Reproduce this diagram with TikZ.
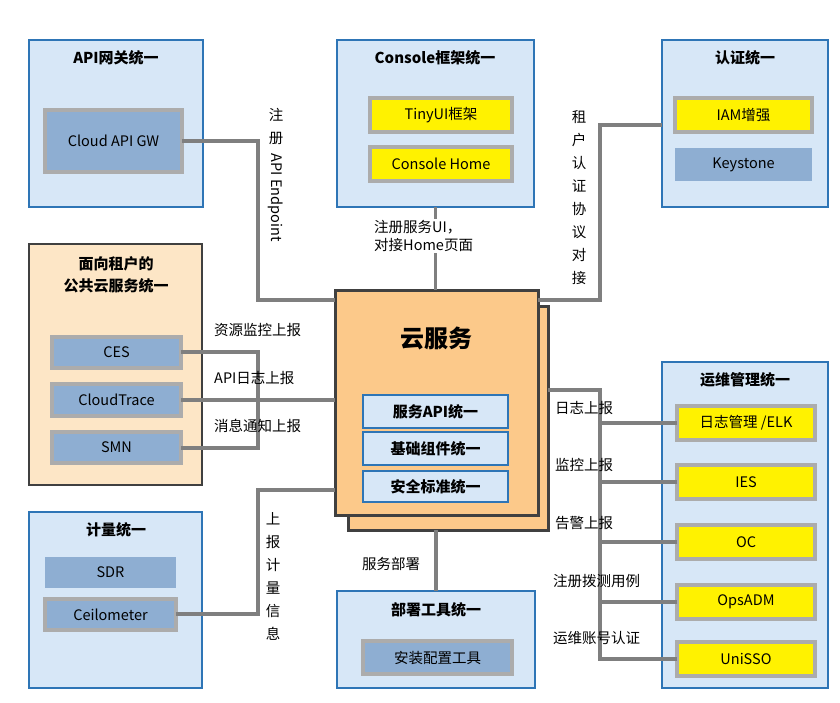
\documentclass[tikz,border=0pt]{standalone}
\usepackage{fontspec}
\setmainfont{Noto Sans CJK SC}
\usepackage{tikz}
\usetikzlibrary{positioning}
\definecolor{panel_fill}{HTML}{D7E7F7}
\definecolor{panel_line}{HTML}{2E75B6}
\definecolor{item_fill}{HTML}{8EAED2}
\definecolor{item_line}{HTML}{ACACAC}
\definecolor{cloud_fill}{HTML}{FCC98A}
\definecolor{tenant_fill}{HTML}{FDE6C6}
\definecolor{dark_line}{HTML}{404040}
\definecolor{wire}{HTML}{7F7F7F}
\tikzset{
  label_font/.style = {font=\fontsize{14.5}{18}\selectfont},
  title_font/.style = {font=\fontsize{15}{22}\selectfont\bfseries},
  box/.style = {anchor=north west, inner sep=0, outer sep=0}
}
\tikzset{
  panel/.style = {box, draw=panel_line, line width=2pt, fill=panel_fill},
  tenant/.style = {box, draw=dark_line, line width=2pt, fill=tenant_fill},
  title/.style = {title_font, anchor=center},
  item/.style = {box, label_font, fill=item_fill, draw=item_line, line width=3.5pt, align=center},
  plain_item/.style = {box, label_font, fill=item_fill, align=center},
  yellow_item/.style = {box, label_font, fill=yellow, draw=item_line, line width=3.5pt, align=center},
  cloud/.style = {box, draw=dark_line, line width=3pt, fill=cloud_fill},
  unify/.style = {box, title_font, fill=panel_fill, draw=panel_line, line width=2pt, align=center},
  wire_line/.style = {draw=wire, line width=3.2pt},
  tag/.style = {label_font, anchor=west, inner sep=0},
  stack/.style = {align=center, inner sep=0, font=\fontsize{14.5}{23}\selectfont}
}
\begin{document}
\begin{tikzpicture}[x=1pt, y=-1pt]
    \useasboundingbox (0,0) rectangle (840,702);

    % Panels
    \node[panel, minimum width=174, minimum height=167] at (29,40) (gw) {};
    \node[title] at (116,58) (gw_t) {API网关统一};
    \node[item, minimum width=137, minimum height=62] at (45,110) (gw_1) {Cloud API GW};

    \node[panel, minimum width=197, minimum height=167] at (337,40) (con) {};
    \node[title] at (435,58) (con_t) {Console框架统一};
    \node[yellow_item, minimum width=142, minimum height=34] at (370,98) (con_1) {TinyUI框架};
    \node[yellow_item, minimum width=142, minimum height=34] at (370,147) (con_2) {Console Home};

    \node[panel, minimum width=166, minimum height=167] at (662,40) (auth) {};
    \node[title] at (745,58) (auth_t) {认证统一};
    \node[yellow_item, minimum width=137, minimum height=34] at (675,98) (auth_1) {IAM增强};
    \node[plain_item, minimum width=137, minimum height=33] at (675,148) (auth_2) {Keystone};

    \node[tenant, minimum width=173, minimum height=241] at (29,244) (ten) {};
    \node[title, align=center] at (116,275) (ten_t) {面向租户的\\公共云服务统一};
    \node[item, minimum width=129, minimum height=31] at (52,337) (ten_1) {CES};
    \node[item, minimum width=129, minimum height=32] at (52,384) (ten_2) {CloudTrace};
    \node[item, minimum width=129, minimum height=31] at (52,432) (ten_3) {SMN};

    \node[panel, minimum width=173, minimum height=176] at (29,512) (mtr) {};
    \node[title] at (116,530) (mtr_t) {计量统一};
    \node[plain_item, minimum width=131, minimum height=31] at (45,557) (mtr_1) {SDR};
    \node[item, minimum width=131, minimum height=31] at (45,599) (mtr_2) {Ceilometer};

    \node[panel, minimum width=198, minimum height=97] at (337,591) (dep) {};
    \node[title] at (436,610) (dep_t) {部署工具统一};
    \node[item, minimum width=149, minimum height=33] at (363,641) (dep_1) {安装配置工具};

    \node[panel, minimum width=166, minimum height=326] at (662,362) (ops) {};
    \node[title] at (745,380) (ops_t) {运维管理统一};
    \node[yellow_item, minimum width=138, minimum height=34] at (677,406) (ops_1) {日志管理 /ELK};
    \node[yellow_item, minimum width=138, minimum height=34] at (677,465) (ops_2) {IES};
    \node[yellow_item, minimum width=138, minimum height=34] at (677,525) (ops_3) {OC};
    \node[yellow_item, minimum width=138, minimum height=34] at (677,585) (ops_4) {OpsADM};
    \node[yellow_item, minimum width=138, minimum height=34] at (677,642) (ops_5) {UniSSO};

    % Cloud service
    \node[cloud, minimum width=200, minimum height=224] at (348,306) (cs_back) {};
    \node[cloud, minimum width=203, minimum height=225] at (335,290) (cs) {};
    \node[anchor=center, font=\fontsize{24}{28}\selectfont\bfseries] at (436,338) (cs_t) {云服务};
    \node[unify, minimum width=145, minimum height=33] at (363,395) (cs_1) {服务API统一};
    \node[unify, minimum width=145, minimum height=33] at (363,432) (cs_2) {基础组件统一};
    \node[unify, minimum width=145, minimum height=31] at (363,471) (cs_3) {安全标准统一};

    % Junctions
    \coordinate (j_gw) at (258,141);
    \coordinate (j_ten_a) at (258,352);
    \coordinate (j_ten_c) at (258,448);
    \coordinate (j_mtr) at (258,614);
    \coordinate (j_auth) at (600,125);
    \coordinate (j_ops) at (600,390);

    % Wires
    \draw[wire_line] (gw_1.east |- j_gw) -- (j_gw) |- (cs.west |- 0,300);
    \draw[wire_line] (con.south) -- (cs.north -| con.south);
    \draw[wire_line] (auth.west |- j_auth) -- (j_auth) |- (cs.east |- 0,300);
    \draw[wire_line] (ten_1.east |- j_ten_a) -- (j_ten_a) -- (j_ten_c) -- (ten_3.east |- j_ten_c);
    \draw[wire_line] (ten_2.east |- 0,400) -- (cs.west |- 0,400);
    \draw[wire_line] (mtr_2.east |- j_mtr) -- (j_mtr) |- (cs.west |- 0,490);
    \draw[wire_line] (cs_back.south -| dep.north) -- (dep.north);
    \draw[wire_line] (cs_back.east |- j_ops) -- (j_ops) |- (ops_5.west);
    \foreach \k in {1,...,4}
      \draw[wire_line] (ops_\k.west) -- (ops_\k.west -| j_ops);

    % Labels
    \node[stack, anchor=north] at (276,108) (l_gw_a) {注\\册};
    \node[label_font, rotate=-90, anchor=west, inner sep=0] at (276,153) (l_gw_b) {API\hspace{4pt}Endpoint};
    \node[label_font, align=left, anchor=north west, inner sep=1, fill=white] at (373,219) (l_con) {注册服务UI，\\对接Home页面};
    \node[stack, anchor=north] at (579,110) (l_auth) {租\\户\\认\\证\\协\\议\\对\\接};
    \node[tag] at (214,330) (l_ten_1) {资源监控上报};
    \node[tag] at (214,378) (l_ten_2) {API日志上报};
    \node[tag] at (214,426) (l_ten_3) {消息通知上报};
    \node[stack, anchor=north] at (273,512) (l_mtr) {上\\报\\计\\量\\信\\息};
    \node[tag] at (362,564) (l_dep) {服务部署};
    \node[tag] at (555,408) (l_ops_1) {日志上报};
    \node[tag] at (555,465) (l_ops_2) {监控上报};
    \node[tag] at (555,523) (l_ops_3) {告警上报};
    \node[tag] at (553,581) (l_ops_4) {注册拨测用例};
    \node[tag] at (553,638) (l_ops_5) {运维账号认证};
\end{tikzpicture}
\end{document}
